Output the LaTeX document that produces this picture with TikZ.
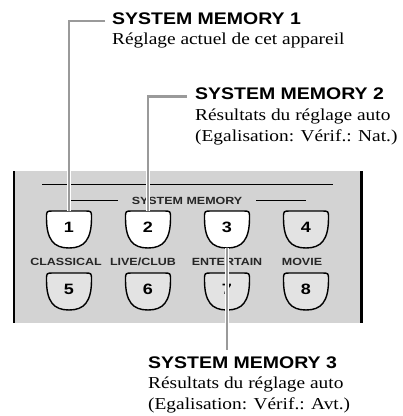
\documentclass[tikz,border=0pt]{standalone}
\usepackage{fontspec}
\usepackage{tikz}
\newfontfamily\headfont{Liberation Sans}[FakeStretch=1.16]
\newfontfamily\bodyfont{Liberation Serif}[FakeStretch=1.16]
\newfontfamily\panelfont{Liberation Sans}[FakeStretch=1.2]
\definecolor{leadgray}{HTML}{9A9A9A}
\definecolor{panelgray}{HTML}{D3D3D3}
\definecolor{keygray}{HTML}{E3E3E3}

\begin{document}
\begin{tikzpicture}[x=1pt,y=-1pt,
  head/.style={anchor=base west,inner sep=0pt,font=\headfont\bfseries\fontsize{16.8}{20}\selectfont},
  body/.style={anchor=base west,inner sep=0pt,font=\bodyfont\fontsize{16.7}{20}\selectfont},
  panellabel/.style={anchor=base,inner sep=0pt,text=black!85,font=\panelfont\bfseries\fontsize{10.4}{12}\selectfont},
  key/.style={minimum width=45pt,minimum height=37pt,inner sep=0pt,text height=10.7pt,text depth=5pt,font=\panelfont\bfseries\fontsize{15}{17}\selectfont},
  keyline/.style={draw=black,line width=1.4pt},
  callout/.style={draw=white,line width=0.9pt,double=leadgray,double distance=2.2pt}]
  \useasboundingbox (0,0) rectangle (403,416);
  % front panel
  \fill[panelgray] (14,171) rectangle (361.5,323);
  \draw[line width=2.6pt] (14,171) -- (14,323) (361.5,171) -- (361.5,323);
  \draw[line width=1.5pt] (42,184.5) -- (333,184.5);
  \node[panellabel] (sysmem) at (187,204) {SYSTEM MEMORY};
  \draw[line width=1.5pt] ([xshift=-14pt]sysmem.west) -- ++(-48.5,0) ([xshift=14pt]sysmem.east) -- ++(50,0);
  % keys
  \foreach \n/\x/\y/\f in {1/69/211/white,2/148/211/white,3/227/211/white,4/306/211/keygray,
                           5/69/273/keygray,6/148/273/keygray,7/227/273/keygray,8/306/273/keygray}{
    \draw[keyline,fill=\f] ({\x-16},\y) -- ({\x+16},\y)
      .. controls ({\x+22.5},\y) .. ({\x+22.5},{\y+7})
      .. controls ({\x+22.5},{\y+29}) and ({\x+15},{\y+37}) .. (\x,{\y+37})
      .. controls ({\x-15},{\y+37}) and ({\x-22.5},{\y+29}) .. ({\x-22.5},{\y+7})
      .. controls ({\x-22.5},\y) .. ({\x-16},\y) -- cycle;
    \node[key] (b\n) at (\x,{\y+18.5}) {\n};
  }
  \node[panellabel] (classical) at (66,265) {CLASSICAL};
  \node[panellabel] (liveclub) at (143,265) {LIVE/CLUB};
  \node[panellabel] (entertain) at (227,265) {ENTERTAIN};
  \node[panellabel] (movie) at (302,265) {MOVIE};
  % callouts
  \node[head] (sm1) at (112,24) {SYSTEM MEMORY 1};
  \node[body] (sm1a) at (112,44) {Réglage actuel de cet appareil};
  \node[head] (sm2) at (195,99.5) {SYSTEM MEMORY 2};
  \node[body] (sm2a) at (195,120.5) {Résultats du réglage auto};
  \node[body] (sm2b) at (195,141) {(Egalisation: Vérif.: Nat.)};
  \node[head] (sm3) at (148,368) {SYSTEM MEMORY 3};
  \node[body] (sm3a) at (148,388.5) {Résultats du réglage auto};
  \node[body] (sm3b) at (148,409) {(Egalisation: Vérif.: Avt.)};
  \draw[callout] ([shift={(-7pt,3pt)}]sm1.base west) -| (b1.north);
  \draw[callout] ([shift={(-8pt,3pt)}]sm2.base west) -| (b2.north);
  \draw[callout] (b3.south) -- ([yshift=6pt]b3.south |- sm3.north);
\end{tikzpicture}
\end{document}
